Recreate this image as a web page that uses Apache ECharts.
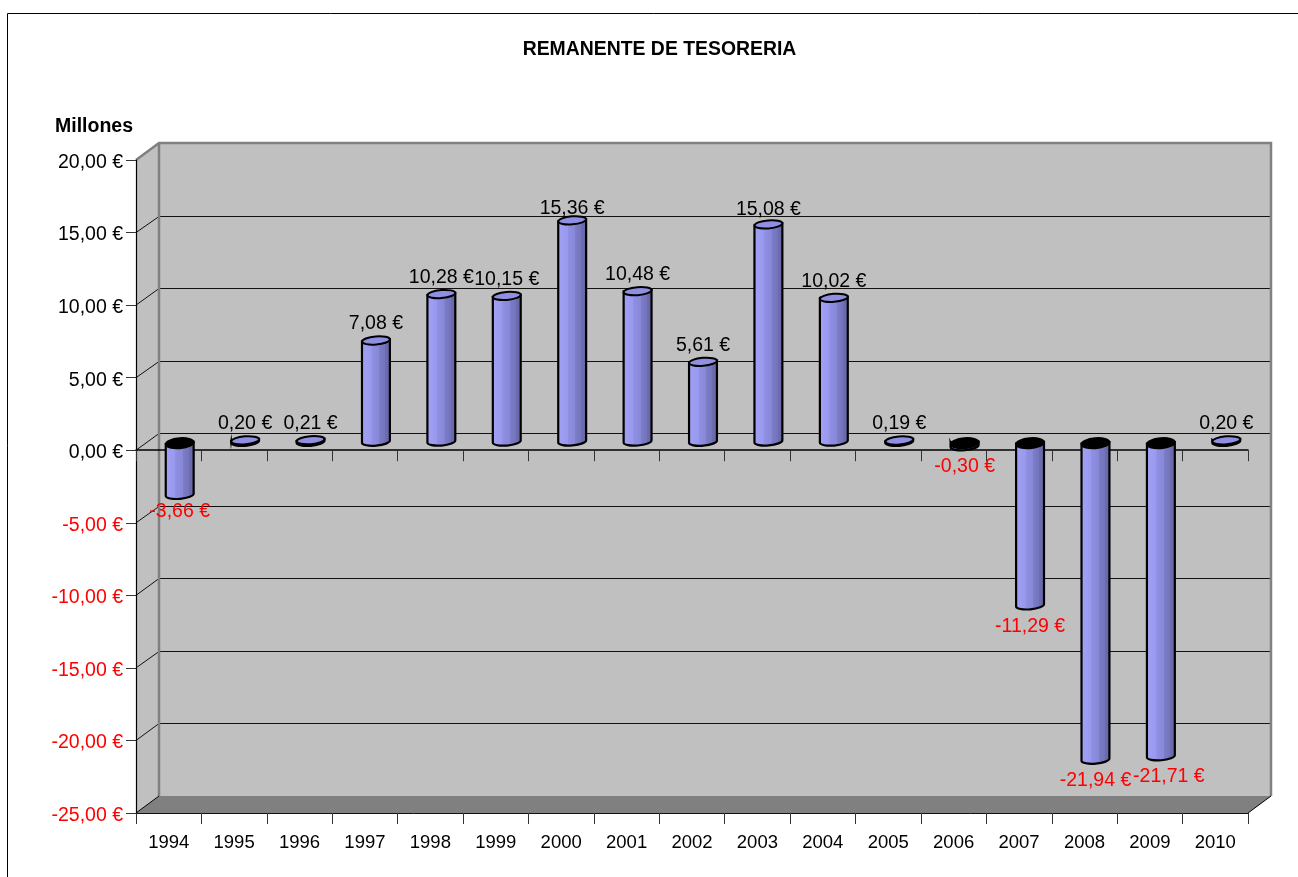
<!DOCTYPE html>
<html>
<head>
<meta charset="utf-8">
<title>Remanente de tesoreria</title>
<script src="https://cdn.jsdelivr.net/npm/echarts@6/dist/echarts.min.js"></script>
<style>
  html, body { margin: 0; padding: 0; background: #fff; overflow: hidden; }
  #chart { width: 1298px; height: 877px; }
</style>
</head>
<body>
<div id="chart"></div>
<script>
const years = ['1994', '1995', '1996', '1997', '1998', '1999', '2000', '2001', '2002',
  '2003', '2004', '2005', '2006', '2007', '2008', '2009', '2010'];
const remanente = [-3.66, 0.20, 0.21, 7.08, 10.28, 10.15, 15.36, 10.48, 5.61,
  15.08, 10.02, 0.19, -0.30, -11.29, -21.94, -21.71, 0.20];
const gridValues = [15, 10, 5, 0, -5, -10, -15, -20];

const FONT = '"Liberation Sans", Arial, sans-serif';
// oblique depth of the fake 3d box
const DEPTH_X = 23;
const DEPTH_Y = -17;
const BAR_DEPTH_X = 11;
const BAR_DEPTH_Y = -7;
const BAR_RX = 14;
const BAR_RY = 4;
const TILT = 0.085;

// a few labels were moved by the original chart to avoid overlap
const labelShift = {
  '1994': [0, -4],
  '2000': [0, 5],
  '2003': [0, 2],
  '2009': [8, -1]
};

const euro = v => v.toFixed(2).replace('.', ',') + ' €';

const chart = echarts.init(document.getElementById('chart'));

const barFill = new echarts.graphic.LinearGradient(0, 0, 1, 0, [
  { offset: 0, color: '#a2a2f6' },
  { offset: 0.35, color: '#9898ee' },
  { offset: 0.36, color: '#9090e4' },
  { offset: 0.6, color: '#8888d8' },
  { offset: 0.61, color: '#7c7cc8' },
  { offset: 0.8, color: '#7474bc' },
  { offset: 0.81, color: '#6c6cb0' },
  { offset: 1, color: '#6464a4' }
]);

function renderWalls(params, api) {
  const box = params.coordSys;
  const l = box.x, t = box.y, r = box.x + box.width, b = box.y + box.height;
  const children = [
    { type: 'polygon', shape: { points: [[l, t], [l + DEPTH_X, t + DEPTH_Y], [l + DEPTH_X, b + DEPTH_Y], [l, b]] },
      style: { fill: '#c0c0c0' } },
    { type: 'rect', shape: { x: l + DEPTH_X, y: t + DEPTH_Y, width: box.width, height: box.height },
      style: { fill: '#c0c0c0' } },
    { type: 'polygon', shape: { points: [[l, b], [l + DEPTH_X, b + DEPTH_Y], [r + DEPTH_X, b + DEPTH_Y], [r, b]] },
      style: { fill: '#808080' } }
  ];
  gridValues.forEach(v => {
    const y = api.coord([0, v])[1];
    // snap the back wall line to a pixel row so it stays crisp
    const backY = Math.round(y + DEPTH_Y) + 0.5;
    children.push({ type: 'polyline',
      shape: { points: [[l, y], [l + DEPTH_X, backY], [r + DEPTH_X, backY]] },
      style: { fill: null, stroke: '#111', lineWidth: 1 } });
  });
  children.push({ type: 'polyline',
    shape: { points: [[l, t], [l + DEPTH_X, t + DEPTH_Y], [r + DEPTH_X, t + DEPTH_Y], [r + DEPTH_X, b + DEPTH_Y]] },
    style: { fill: null, stroke: '#808080', lineWidth: 2.5 } });
  children.push({ type: 'line',
    shape: { x1: l + DEPTH_X, y1: t + DEPTH_Y, x2: l + DEPTH_X, y2: b + DEPTH_Y },
    style: { stroke: '#808080', lineWidth: 2.5 } });
  children.push({ type: 'line',
    shape: { x1: l, y1: b, x2: l + DEPTH_X, y2: b + DEPTH_Y },
    style: { stroke: '#000', lineWidth: 1 } });
  children.push({ type: 'line',
    shape: { x1: r, y1: b, x2: r + DEPTH_X, y2: b + DEPTH_Y },
    style: { stroke: '#000', lineWidth: 1 } });
  return { type: 'group', children };
}

function ellipsePath(cx, cy, ry) {
  const dy = BAR_RX * TILT;
  const rot = -Math.atan(TILT) * 180 / Math.PI;
  return `M${cx - BAR_RX} ${cy + dy} A${BAR_RX} ${ry} ${rot} 1 1 ${cx + BAR_RX} ${cy - dy} ` +
    `A${BAR_RX} ${ry} ${rot} 1 1 ${cx - BAR_RX} ${cy + dy} Z`;
}

function renderCylinder(params, api) {
  const idx = api.value(0);
  const val = api.value(1);
  const zero = api.coord([idx, 0]);
  const end = api.coord([idx, val]);
  const cx = zero[0] + BAR_DEPTH_X;
  const y0 = zero[1] + BAR_DEPTH_Y;
  const y1 = end[1] + BAR_DEPTH_Y;
  const top = Math.min(y0, y1);
  const bottom = Math.max(y0, y1);
  const dy = BAR_RX * TILT;
  const rot = -Math.atan(TILT) * 180 / Math.PI;
  const ry = val >= 0 ? BAR_RY : BAR_RY + 1;
  const body = `M${cx - BAR_RX} ${top + dy} L${cx - BAR_RX} ${bottom + dy} ` +
    `A${BAR_RX} ${BAR_RY} ${rot} 0 0 ${cx + BAR_RX} ${bottom - dy} L${cx + BAR_RX} ${top - dy} ` +
    `A${BAR_RX} ${BAR_RY} ${rot} 0 1 ${cx - BAR_RX} ${top + dy} Z`;
  const shift = labelShift[years[idx]] || [0, 0];
  const textY = (val >= 0 ? top - 16.5 : bottom + 19.5) + shift[1];
  return {
    type: 'group',
    children: [
      { type: 'path', shape: { pathData: body, x: cx - BAR_RX, y: top - BAR_RY, width: BAR_RX * 2, height: bottom - top + BAR_RY * 2 },
        style: { fill: barFill, stroke: '#000', lineWidth: 2.2 } },
      { type: 'path', shape: { pathData: ellipsePath(cx, top, ry), x: cx - BAR_RX, y: top - ry, width: BAR_RX * 2, height: ry * 2 },
        style: { fill: val >= 0 ? '#9090e2' : '#000', stroke: '#000', lineWidth: 2 } },
      { type: 'text', z2: 10,
        style: { x: cx + shift[0], y: textY, text: euro(val), align: 'center', verticalAlign: 'middle',
          font: '19.5px ' + FONT, fill: val >= 0 ? '#000' : '#ff0000' } }
    ]
  };
}

const catAxis = {
  type: 'category',
  data: years,
  position: 'bottom',
  z: 1,
  axisTick: { show: true, alignWithLabel: false, length: 11, lineStyle: { color: '#333', width: 1 } }
};

chart.setOption({
  animation: false,
  backgroundColor: '#fff',
  title: [
    { text: 'REMANENTE DE TESORERIA', left: 659.5, top: 40, padding: 0, textAlign: 'center',
      textStyle: { fontFamily: FONT, fontSize: 19.4, fontWeight: 'bold', color: '#000' } },
    { text: 'Millones', left: 55, top: 117, padding: 0,
      textStyle: { fontFamily: FONT, fontSize: 19.5, fontWeight: 'bold', color: '#000' } }
  ],
  graphic: [
    { type: 'rect', z: -10, silent: true, shape: { x: 7.5, y: 13.5, width: 1400, height: 1000 },
      style: { fill: '#fff', stroke: '#000', lineWidth: 1 } }
  ],
  grid: { left: 136, top: 160, width: 1112, height: 653, containLabel: false },
  xAxis: [
    Object.assign({}, catAxis, {
      axisLabel: { show: false },
      axisLine: { show: true, onZero: true, lineStyle: { color: '#000', width: 1.5 } }
    }),
    Object.assign({}, catAxis, {
      axisLabel: { show: true, margin: 20, interval: 0, fontFamily: FONT, fontSize: 18.5, color: '#000' },
      axisLine: { show: true, onZero: false, lineStyle: { color: '#111', width: 1 } }
    })
  ],
  yAxis: {
    type: 'value',
    min: -25,
    max: 20,
    interval: 5,
    z: 1,
    splitLine: { show: false },
    axisLine: { show: true, onZero: false, lineStyle: { color: '#000', width: 1.2 } },
    axisTick: { show: true, length: 10, lineStyle: { color: '#333', width: 1 } },
    axisLabel: {
      margin: 13,
      fontFamily: FONT,
      fontSize: 19.5,
      formatter: v => `{v|${euro(v)}}`,
      rich: { v: { padding: [5, 0, 0, 0] } },
      color: v => (Number(v) < 0 ? '#ff0000' : '#000')
    }
  },
  series: [
    { type: 'custom', name: 'walls', z: 0, silent: true, clip: false, xAxisIndex: 0,
      data: [[0, 0]], renderItem: renderWalls },
    { type: 'custom', name: 'remanente', z: 3, silent: true, clip: false, xAxisIndex: 0,
      data: remanente.map((v, i) => [i, v]), renderItem: renderCylinder,
      encode: { x: 0, y: 1 } }
  ]
});
</script>
</body>
</html>
